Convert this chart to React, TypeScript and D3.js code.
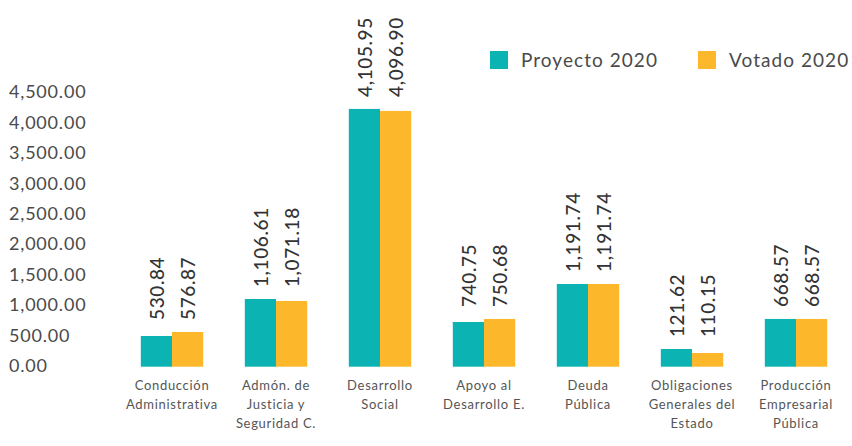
import React from "react";
import * as d3 from "d3";

const categories = [
  ["Conducción", "Administrativa"],
  ["Admón. de", "Justicia y", "Seguridad C."],
  ["Desarrollo", "Social"],
  ["Apoyo al", "Desarrollo E."],
  ["Deuda", "Pública"],
  ["Obligaciones", "Generales del", "Estado"],
  ["Producción", "Empresarial", "Pública"],
];
const seriesNames = ["Proyecto 2020", "Votado 2020"];
// bar heights as drawn in the picture
const proyectoBars = [505, 1113, 4238, 735, 1360, 291, 785];
const votadoBars = [571, 1081, 4205, 785, 1360, 225, 785];
// value labels as printed in the picture
const proyectoLabels = ["530.84", "1,106.61", "4,105.95", "740.75", "1,191.74", "121.62", "668.57"];
const votadoLabels = ["576.87", "1,071.18", "4,096.90", "750.68", "1,191.74", "110.15", "668.57"];
const yTicks = [0, 500, 1000, 1500, 2000, 2500, 3000, 3500, 4000, 4500];

const colors = ["#0bb3b3", "#fdb72b"];
const W = 852;
const H = 446;
const FONT = "Lato, 'Open Sans', sans-serif";

export default function App() {
  const keys = categories.map((c) => c.join(" "));
  const x = d3.scaleBand<string>().domain(keys).range([120, 848]).paddingInner(0.4).paddingOuter(0.2);
  const x1 = d3.scaleBand<string>().domain(seriesNames).range([0, x.bandwidth()]);
  const y = d3.scaleLinear().domain([0, 4500]).range([366.7, 93]);
  const fmt = d3.format(",.2f");
  const bars = [proyectoBars, votadoBars];
  const labels = [proyectoLabels, votadoLabels];

  return (
    <svg
      width={W}
      height={H}
      style={{ position: "absolute", left: 0, top: 0, background: "#fff", fontFamily: FONT }}
    >
      {yTicks.map((t) => (
        <text key={t} x={9} y={y(t) - 1} dy="0.35em" fontSize={18} letterSpacing={0.8} fill="#4a4a4a">
          {fmt(t)}
        </text>
      ))}
      {keys.map((k, i) => {
        const gx = x(k)!;
        const top = Math.min(y(proyectoBars[i]), y(votadoBars[i]));
        return (
          <g key={k}>
            {seriesNames.map((s, j) => {
              const bx = gx + x1(s)!;
              const v = bars[j][i];
              const cx = bx + x1.bandwidth() / 2 + 1;
              const ly = top - 12;
              return (
                <g key={s}>
                  <rect x={bx} y={y(v)} width={x1.bandwidth()} height={y(0) - y(v)} fill={colors[j]} />
                  <text
                    transform={`translate(${cx},${ly}) rotate(-90)`}
                    dy="0.35em"
                    fontSize={19}
                    letterSpacing={0.6}
                    fill="#333"
                    fontWeight={500}
                  >
                    {labels[j][i]}
                  </text>
                </g>
              );
            })}
            {categories[i].map((line, li) => (
              <text
                key={li}
                x={gx + x.bandwidth() / 2}
                y={385 + li * 19}
                dy="0.35em"
                textAnchor="middle"
                fontSize={13}
                letterSpacing={0.7}
                fill="#555"
              >
                {line}
              </text>
            ))}
          </g>
        );
      })}
      {seriesNames.map((s, j) => {
        const lx = j === 0 ? 490 : 698;
        return (
          <g key={s}>
            <rect x={lx} y={51} width={18} height={18} fill={colors[j]} />
            <text x={lx + 31} y={60} dy="0.35em" fontSize={19} letterSpacing={1.05} fill="#4a4a4a">
              {s}
            </text>
          </g>
        );
      })}
    </svg>
  );
}
